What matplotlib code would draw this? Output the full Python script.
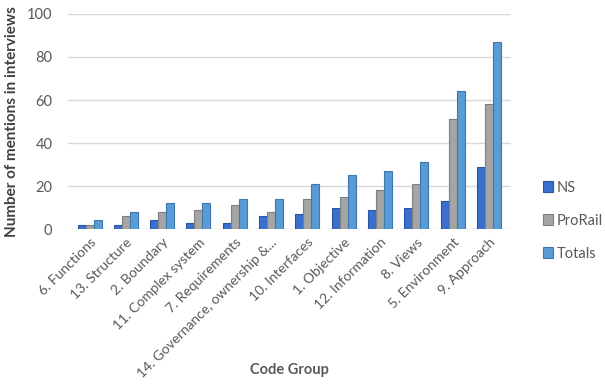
import numpy as np
import matplotlib.pyplot as plt

# Data
categories = ['6. Functions', '13. Structure', '2. Boundary', '11. Complex system',
              '7. Requirements', '14. Governance, ownership &...', '10. Interfaces',
              '1. Objective', '12. Information', '8. Views', '5. Environment', '9. Approach']
ns = [2, 2, 4, 3, 3, 6, 7, 10, 9, 10, 13, 29]
prorail = [2, 6, 8, 9, 11, 8, 14, 15, 18, 21, 51, 58]
totals = [4, 8, 12, 12, 14, 14, 21, 25, 27, 31, 64, 87]

plt.rcParams['font.family'] = ['Lato', 'DejaVu Sans']

fig = plt.figure(figsize=(6.05, 3.87), dpi=100)
ax = fig.add_axes([0.112, 0.408, 0.732, 0.556])

x = np.arange(len(categories))
w = 0.22
ax.bar(x - w, ns, w, color='#3a6fd0', edgecolor='#2a559f', linewidth=0.8, label='NS', zorder=3)
ax.bar(x, prorail, w, color='#a5a5a5', edgecolor='#7f7f7f', linewidth=0.8, label='ProRail', zorder=3)
ax.bar(x + w, totals, w, color='#5b9bd5', edgecolor='#3f78ab', linewidth=0.8, label='Totals', zorder=3)

ax.set_ylim(0, 100)
ax.set_yticks(range(0, 101, 20))
ax.set_xlim(-0.6, len(categories) - 0.4)
ax.set_xticks(x)
ax.set_xticklabels(categories, rotation=45, ha='right', rotation_mode='anchor')
ax.tick_params(axis='both', length=0, labelsize=10, colors='#595959')
ax.tick_params(axis='y', labelsize=10.5, pad=11)
ax.tick_params(axis='x', pad=5)
ax.grid(axis='y', color='#d9d9d9', linewidth=1, zorder=0)
for s in ax.spines.values():
    s.set_visible(False)

ax.set_ylabel('Number of mentions in interviews', fontsize=11, fontweight='bold', color='#404040', labelpad=6)
ax.set_xlabel('Code Group', fontsize=10.5, fontweight='bold', color='#595959')
ax.xaxis.set_label_coords(0.5, -0.62)

fig.legend(loc='center left', bbox_to_anchor=(0.898, 0.43), frameon=False,
           fontsize=10.5, labelcolor='#595959', handlelength=0.7, handleheight=0.7,
           labelspacing=1.3, handletextpad=0.2, borderaxespad=0, borderpad=0)

fig.savefig('out.png', dpi=100)
